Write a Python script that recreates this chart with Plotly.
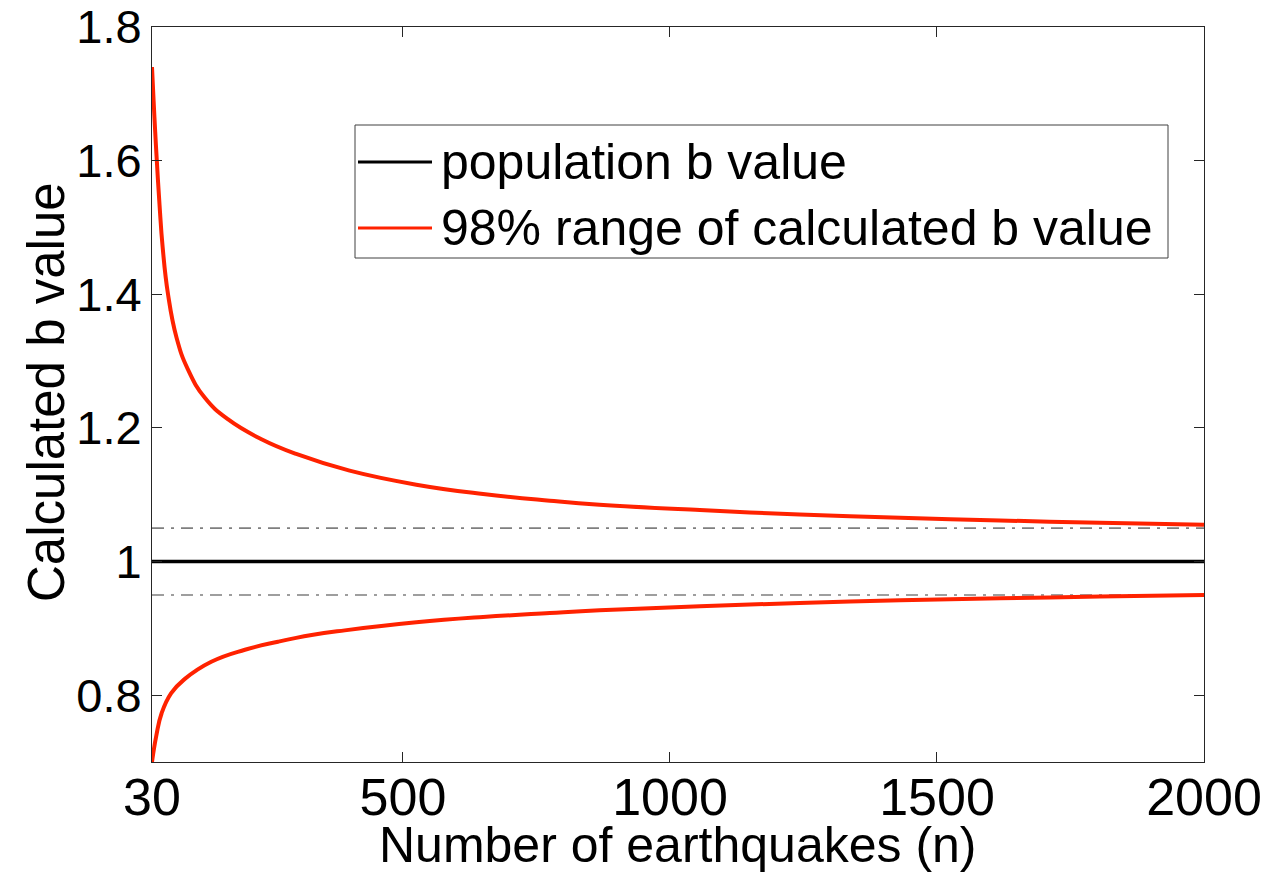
import plotly.graph_objects as go

# Number of earthquakes in the sample
n_upper = [30, 33, 36, 39, 44, 50, 60, 76, 97, 129, 172, 235, 300, 400, 525, 650,
           775, 868, 1056, 1243, 1431, 1618, 1805, 2000]
# Upper bound of the 98% range of the calculated b value
b_upper = [1.740, 1.690, 1.643, 1.600, 1.535, 1.470, 1.400, 1.335, 1.288, 1.245,
           1.213, 1.183, 1.161, 1.136, 1.115, 1.101, 1.091, 1.085, 1.077, 1.0705,
           1.0655, 1.0615, 1.058, 1.055]

n_lower = [30, 38, 48, 66, 91, 141, 204, 266, 329, 391, 525, 650, 775, 868, 1056,
           1243, 1431, 1618, 1805, 2000]
# Lower bound of the 98% range of the calculated b value
b_lower = [0.700, 0.739, 0.773, 0.803, 0.824, 0.850, 0.868, 0.880, 0.890, 0.897,
           0.909, 0.917, 0.923, 0.927, 0.933, 0.938, 0.942, 0.945, 0.9476, 0.950]

n_span = [30, 2000]
b_population = 1.0
b_band = [0.95, 1.05]          # +/- 5 % around the population value

x_ticks = [30, 500, 1000, 1500, 2000]
y_ticks = [0.8, 1.0, 1.2, 1.4, 1.6, 1.8]
y_tick_text = ["0.8", "1", "1.2", "1.4", "1.6", "1.8"]

legend_labels = ["population b value", "98% range of calculated b value"]
x_title = "Number of earthquakes (n)"
y_title = "Calculated b value"

FONT = "Liberation Sans, Arial, Helvetica, sans-serif"
RED = "#ff2200"
AXIS = "#262626"

# plot-area geometry in pixels
L, R, T, B = 152, 1204, 27, 762
W, H = 1264, 872


def fx(p):
    return (p - L) / (R - L)


def fy(p):
    return (B - p) / (B - T)


fig = go.Figure()

for yb in b_band:
    fig.add_trace(go.Scatter(
        x=n_span, y=[yb, yb], mode="lines",
        line=dict(color="#7f7f7f", width=1.6, dash="12px,7px,3px,7px"),
        showlegend=False, hoverinfo="skip"))

fig.add_trace(go.Scatter(
    x=n_span, y=[b_population, b_population], mode="lines",
    line=dict(color="black", width=3.4), showlegend=False))

for nn, bb in [(n_upper, b_upper), (n_lower, b_lower)]:
    fig.add_trace(go.Scatter(
        x=nn, y=bb, mode="lines",
        line=dict(color=RED, width=4, shape="spline", smoothing=1.3),
        showlegend=False))

axis_common = dict(
    showline=True, linecolor=AXIS, linewidth=1, mirror="ticks",
    ticks="inside", ticklen=10, tickwidth=1, tickcolor=AXIS,
    showgrid=False, zeroline=False, automargin=False,
)

fig.update_xaxes(
    range=[30, 2000], tickvals=x_ticks, ticktext=[str(v) for v in x_ticks],
    tickfont=dict(family=FONT, size=52, color="black"),
    ticklabelstandoff=-10, **axis_common)
fig.update_yaxes(
    range=[0.7, 1.8], tickvals=y_ticks, ticktext=y_tick_text,
    tickfont=dict(family=FONT, size=47, color="black"),
    ticklabelstandoff=0, **axis_common)

# axis titles
annotations = [
    dict(text=x_title, xref="paper", yref="paper", x=0.5, y=fy(845),
         xanchor="center", yanchor="middle", showarrow=False,
         font=dict(family=FONT, size=50, color="black")),
    dict(text=y_title, xref="paper", yref="paper", x=fx(46), y=fy(392),
         xanchor="center", yanchor="middle", showarrow=False, textangle=-90,
         font=dict(family=FONT, size=51, color="black")),
]

# legend box
shapes = [dict(type="rect", xref="paper", yref="paper",
               x0=fx(355), x1=fx(1168), y0=fy(258), y1=fy(125),
               line=dict(color="#404040", width=1), fillcolor="white", layer="above")]
for label, color, yp in zip(legend_labels, ["black", RED], [162, 228]):
    shapes.append(dict(type="line", xref="paper", yref="paper",
                       x0=fx(358), x1=fx(432), y0=fy(yp), y1=fy(yp),
                       line=dict(color=color, width=3.2), layer="above"))
    annotations.append(dict(text=label, xref="paper", yref="paper",
                            x=fx(439), y=fy(yp), xanchor="left", yanchor="middle",
                            showarrow=False,
                            font=dict(family=FONT, size=50, color="black")))

fig.update_layout(
    width=W, height=H,
    margin=dict(l=L, r=W - R, t=T, b=H - B),
    paper_bgcolor="white", plot_bgcolor="white",
    shapes=shapes, annotations=annotations,
    showlegend=False,
)

fig.write_html("out.html")
